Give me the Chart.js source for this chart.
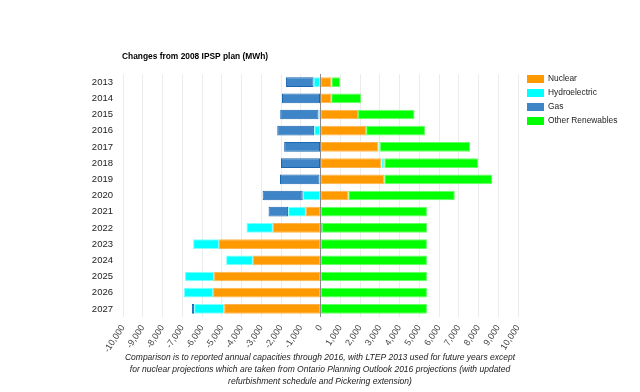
<!DOCTYPE html>
<html>
<head>
<meta charset="utf-8">
<script src="https://cdn.jsdelivr.net/npm/chart.js@4"></script>
<style>
  html, body { margin: 0; padding: 0; background: #fff; }
  #wrap { width: 640px; height: 392px; position: relative; }
</style>
</head>
<body>
<div id="wrap"><canvas id="chart"></canvas></div>
<script>
// Years on the category axis
const years = ['2013', '2014', '2015', '2016', '2017', '2018', '2019', '2020',
    '2021', '2022', '2023', '2024', '2025', '2026', '2027'];

// Change from 2008 IPSP plan, MWh, per source
const nuclear = [550, 540, 1900, 2310, 2930, 3080, 3230, 1410,
    -740, -2410, -5140, -3420, -5390, -5440, -4880];
const hydro = [-350, 0, -100, -320, 80, 150, -50, -900,
    -900, -1340, -1310, -1360, -1470, -1480, -1520];
const gas = [-1400, -1950, -1940, -1870, -1840, -2000, -2000, -2030,
    -990, 60, 0, 0, 0, 0, -110];
const renewables = [450, 1510, 2860, 2980, 4570, 4750, 5470, 5390,
    5390, 5340, 5390, 5390, 5390, 5390, 5390];

const titleText = 'Changes from 2008 IPSP plan (MWh)';
const captionLines = [
    'Comparison is to reported annual capacities through 2016, with LTEP 2013 used for future years except',
    'for nuclear projections which are taken from Ontario Planning Outlook 2016 projections (with updated',
    'refurbishment schedule and Pickering extension)'
];

const FONT = '"Liberation Sans", Arial, sans-serif';

// Title, legend and caption drawn by hand so they land where the original has them
const decorations = {
    id: 'decorations',
    afterDraw(chart) {
        const ctx = chart.ctx;
        ctx.save();

        // title
        ctx.fillStyle = '#000';
        ctx.font = 'bold 8.4px ' + FONT;
        ctx.textAlign = 'left';
        ctx.textBaseline = 'middle';
        ctx.fillText(titleText, 122, 57);

        // legend
        ctx.font = '8.4px ' + FONT;
        chart.data.datasets.forEach((ds, i) => {
            const cy = 79 + i * 14;
            ctx.fillStyle = ds.backgroundColor;
            ctx.fillRect(527, cy - 4, 17, 8);
            ctx.fillStyle = '#222';
            ctx.fillText(ds.label, 548, cy);
        });

        // caption
        ctx.font = 'italic 8.5px ' + FONT;
        ctx.textAlign = 'center';
        ctx.fillStyle = '#222';
        captionLines.forEach((line, i) => {
            ctx.fillText(line, 320, 358 + i * 12);
        });

        ctx.restore();
    }
};

const ctx = document.getElementById('chart').getContext('2d');
new Chart(ctx, {
    type: 'bar',
    data: {
        labels: years,
        datasets: [
            { label: 'Nuclear', data: nuclear, backgroundColor: '#ff9900', borderColor: '#ffb54d' },
            { label: 'Hydroelectric', data: hydro, backgroundColor: '#00ffff', borderColor: '#80ffff' },
            { label: 'Gas', data: gas, backgroundColor: '#3d85c6', borderColor: '#1a66b3' },
            { label: 'Other Renewables', data: renewables, backgroundColor: '#00ff00', borderColor: '#66ff66' }
        ]
    },
    options: {
        indexAxis: 'y',
        responsive: true,
        maintainAspectRatio: false,
        animation: false,
        datasets: {
            bar: {
                barPercentage: 0.6,
                categoryPercentage: 1,
                borderWidth: 1,
                borderSkipped: false
            }
        },
        layout: { padding: { left: 0, right: 122, top: 74, bottom: 0 } },
        plugins: {
            legend: { display: false },
            title: { display: false },
            tooltip: { enabled: false }
        },
        scales: {
            x: {
                stacked: true,
                min: -10000,
                max: 10000,
                border: { display: false },
                grid: {
                    drawTicks: false,
                    color: (c) => (c.tick && c.tick.value === 0) ? '#8c8c8c' : '#ececec',
                    lineWidth: 1
                },
                ticks: {
                    stepSize: 1000,
                    autoSkip: false,
                    minRotation: 57,
                    maxRotation: 57,
                    padding: 6,
                    color: '#444',
                    font: { size: 9, family: FONT },
                    callback: (v) => Number(v).toLocaleString('en-US')
                },
                afterFit: (scale) => { scale.height = 75; }
            },
            y: {
                stacked: true,
                border: { display: false },
                grid: { display: false, drawTicks: false },
                ticks: {
                    padding: 10,
                    color: '#222',
                    font: { size: 9.5, family: FONT }
                },
                afterFit: (scale) => { scale.width = 123; }
            }
        }
    },
    plugins: [decorations]
});
</script>
</body>
</html>
